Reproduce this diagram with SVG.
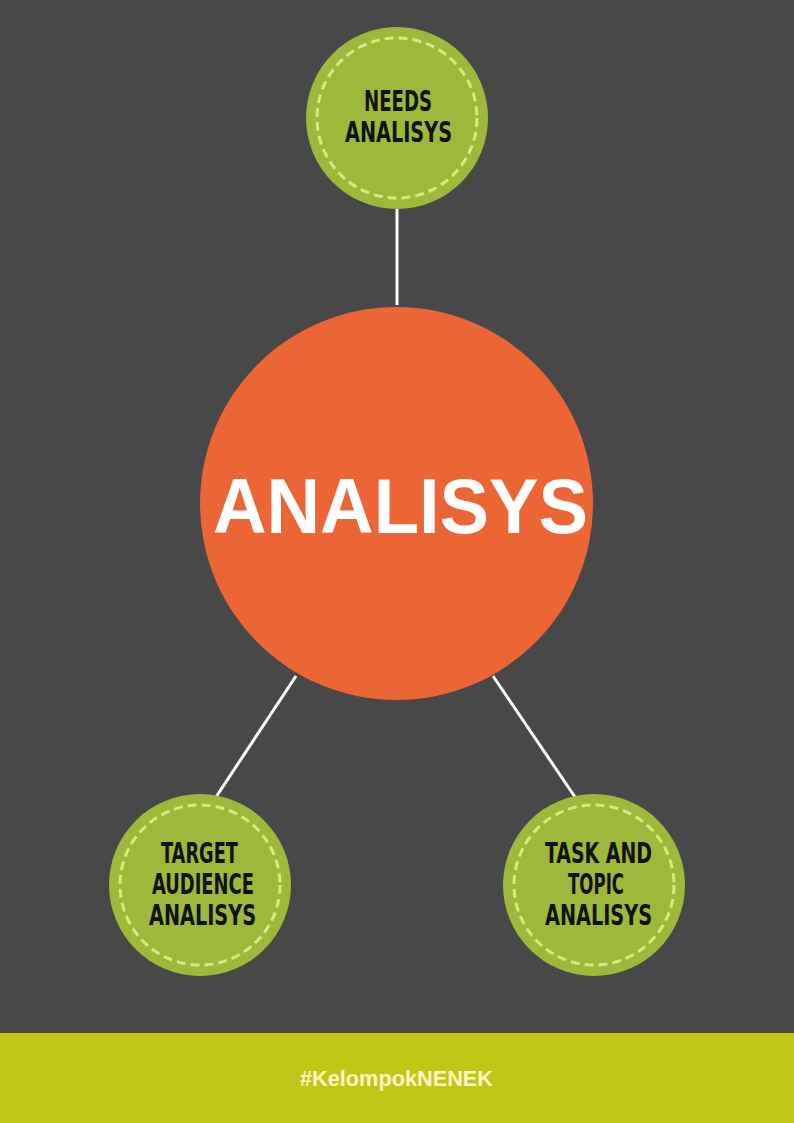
<svg xmlns="http://www.w3.org/2000/svg" width="794" height="1123" viewBox="0 0 794 1123">
<style>
.bg{fill:#484848}
.sat{fill:#9DB83A}
.ring{fill:none;stroke:#DCE77F;stroke-width:3;stroke-dasharray:9 5}
.lbl{font-family:"Liberation Sans Narrow","DejaVu Sans Condensed","Liberation Sans",sans-serif;font-weight:bold;font-size:28px;fill:#111111;text-anchor:middle}
.conn{stroke:#FFFFFF;stroke-width:3;fill:none}
</style>
<rect class="bg" x="0" y="0" width="794" height="1123"/>
<g id="connectors">
<line class="conn" x1="397" y1="209" x2="397" y2="305"/>
<line class="conn" x1="296" y1="676" x2="216" y2="797"/>
<line class="conn" x1="493" y1="676" x2="575" y2="797"/>
</g>
<g id="center">
<circle cx="396.5" cy="503.5" r="196.5" fill="#EC6535"/>
<text x="400.5" y="533" font-family="'Liberation Sans',Arial,sans-serif" font-weight="bold" font-size="78" fill="#FFFFFF" text-anchor="middle" textLength="375" lengthAdjust="spacingAndGlyphs">ANALISYS</text>
</g>
<g id="needs">
<circle class="sat" cx="397" cy="118" r="91"/>
<circle class="ring" cx="397" cy="118" r="80"/>
<text class="lbl" x="398" y="111" textLength="68" lengthAdjust="spacingAndGlyphs">NEEDS</text>
<text class="lbl" x="398.5" y="142" textLength="107" lengthAdjust="spacingAndGlyphs">ANALISYS</text>
</g>
<g id="target">
<circle class="sat" cx="200" cy="885" r="91"/>
<circle class="ring" cx="200" cy="885" r="80"/>
<text class="lbl" x="199.5" y="863" textLength="77" lengthAdjust="spacingAndGlyphs">TARGET</text>
<text class="lbl" x="203" y="894" textLength="102" lengthAdjust="spacingAndGlyphs">AUDIENCE</text>
<text class="lbl" x="202.5" y="925" textLength="107" lengthAdjust="spacingAndGlyphs">ANALISYS</text>
</g>
<g id="task">
<circle class="sat" cx="594" cy="885" r="91"/>
<circle class="ring" cx="594" cy="885" r="80"/>
<text class="lbl" x="598.5" y="863" textLength="107" lengthAdjust="spacingAndGlyphs">TASK AND</text>
<text class="lbl" x="596" y="894" textLength="56" lengthAdjust="spacingAndGlyphs">TOPIC</text>
<text class="lbl" x="598.5" y="925" textLength="107" lengthAdjust="spacingAndGlyphs">ANALISYS</text>
</g>
<g id="footer">
<rect x="0" y="1033" width="794" height="90" fill="#BFC817"/>
<text x="396.5" y="1086" font-family="'Liberation Sans',Arial,sans-serif" font-weight="bold" font-size="22" fill="#FFF4C4" text-anchor="middle" textLength="193" lengthAdjust="spacingAndGlyphs">#KelompokNENEK</text>
</g>
</svg>
